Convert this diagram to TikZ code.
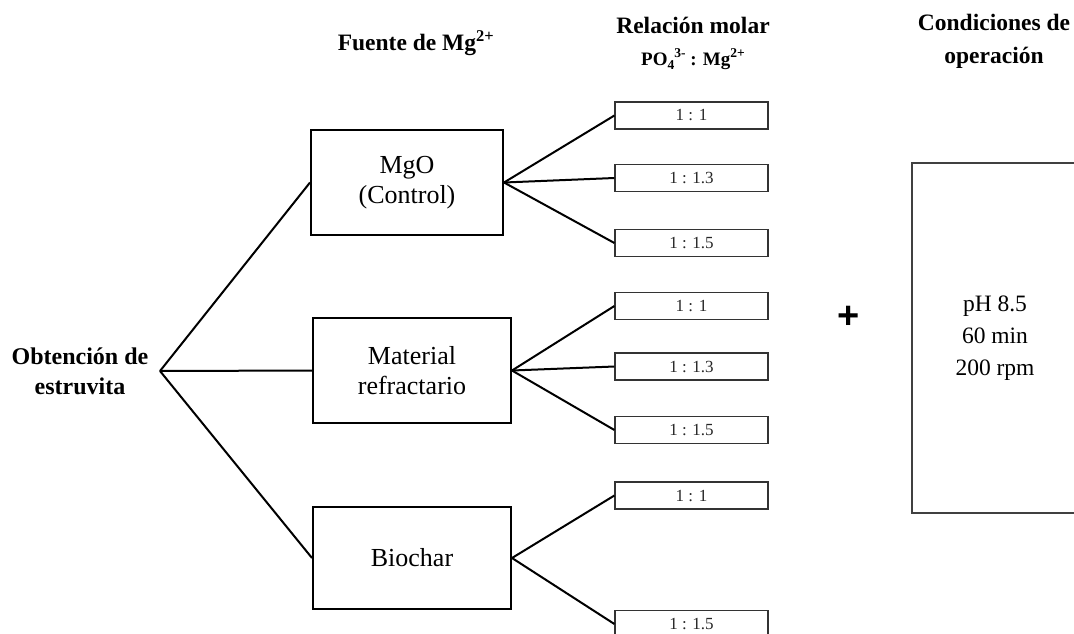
\documentclass[tikz,border=0pt]{standalone}
\usepackage{fontspec}
\setmainfont{Liberation Serif}
\newfontfamily\plusfont{Liberation Sans}
\newcommand{\mysup}[1]{\raisebox{0.45em}{\bfseries\fontsize{13.5}{13.5}\selectfont #1}}
\newcommand{\mysub}[1]{\raisebox{-0.22em}{\bfseries\fontsize{13.5}{13.5}\selectfont #1}}
\begin{document}
\begin{tikzpicture}[x=1pt,y=-1pt,
  bigbox/.style={draw=black, line width=2pt, align=center, inner sep=0pt, font=\fontsize{26}{30}\selectfont},
  ratiobox/.style={draw=black!80, line width=1.2pt, minimum width=153pt, minimum height=27pt, inner sep=0pt, font=\fontsize{17}{18}\selectfont, text=black!85},
  condbox/.style={draw=black!75, line width=1.3pt, minimum width=166pt, minimum height=350pt, align=center, inner sep=0pt, font=\fontsize{23.5}{32}\selectfont},
  header/.style={align=center, inner sep=0pt, font=\bfseries\fontsize{23.5}{33}\selectfont},
  link/.style={line width=2pt, black}]
\useasboundingbox (0,0) rectangle (1074,633);
\clip (0,0) rectangle (1074,633);

% headers
\node[header] (hfuente) at (416,43) {Fuente de Mg\textsuperscript{2+}};
\node[header] (hrel) at (693,25) {Relación molar};
\node[inner sep=0pt, font=\bfseries\fontsize{19}{20}\selectfont] (hpo) at (693,59) {PO\mysub{4}\mysup{3-} : Mg\mysup{2+}};
\node[header] (hcond) at (994,41) {Condiciones de\\operación};

% root
\node[header, font=\bfseries\fontsize{24}{30}\selectfont] (root) at (80,371) {Obtención de\\estruvita};
\coordinate (split) at (160,371);

% sources
\node[bigbox, minimum width=192pt, minimum height=105pt] (mgo) at (407,182.5) {MgO\\(Control)};
\node[bigbox, minimum width=198pt, minimum height=105pt] (mat) at (412,370.5) {Material\\refractario};
\node[bigbox, minimum width=198pt, minimum height=102pt] (bio) at (412,558) {Biochar};

% ratios
\node[ratiobox] (a1) at (691.5,115.5) {1 : 1};
\node[ratiobox] (a2) at (691.5,178) {1 : 1.3};
\node[ratiobox] (a3) at (691.5,243) {1 : 1.5};
\node[ratiobox] (b1) at (691.5,306) {1 : 1};
\node[ratiobox] (b2) at (691.5,366.5) {1 : 1.3};
\node[ratiobox] (b3) at (691.5,430) {1 : 1.5};
\node[ratiobox] (c1) at (691.5,495.5) {1 : 1};
\node[ratiobox] (c2) at (691.5,624) {1 : 1.5};

% conditions
\node[font=\plusfont\bfseries\fontsize{38}{38}\selectfont, inner sep=0pt] (plus) at (849,317) {+};
\node[condbox] (cond) at (995,338) {pH 8.5\\60 min\\200 rpm};

% connectors
\draw[link] (split) -- (mgo.west);
\draw[link] (split) -- (mat.west);
\draw[link] (split) -- (bio.west);
\draw[link] (mgo.east) -- (a1.west);
\draw[link] (mgo.east) -- (a2.west);
\draw[link] (mgo.east) -- (a3.west);
\draw[link] (mat.east) -- (b1.west);
\draw[link] (mat.east) -- (b2.west);
\draw[link] (mat.east) -- (b3.west);
\draw[link] (bio.east) -- (c1.west);
\draw[link] (bio.east) -- (c2.west);
\end{tikzpicture}
\end{document}
